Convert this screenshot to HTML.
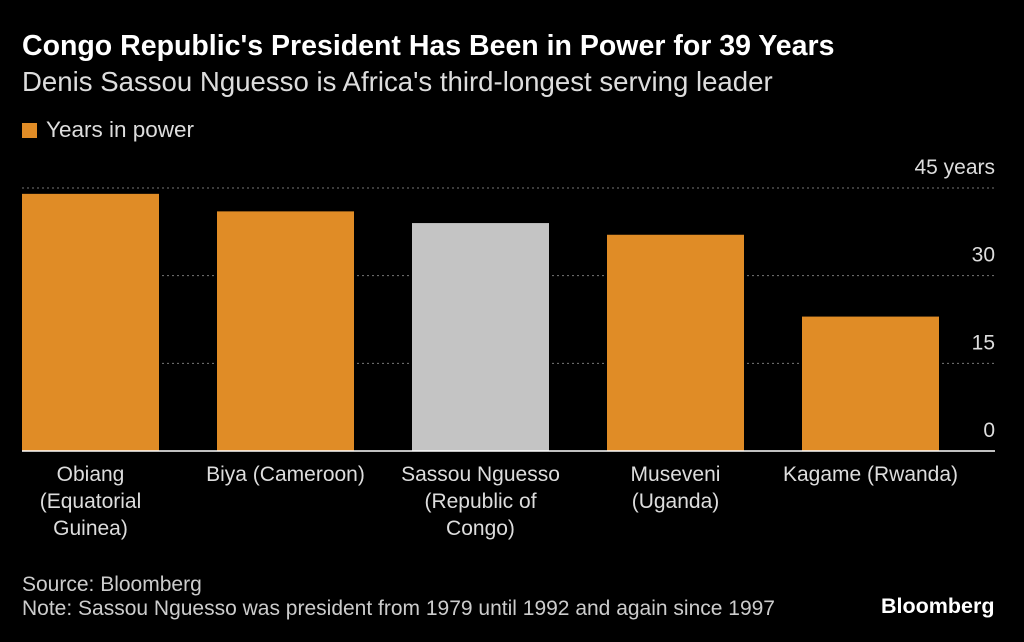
<!DOCTYPE html>
<html><head><meta charset="utf-8"><style>
body{margin:0;background:#000;width:1024px;height:642px;overflow:hidden;font-family:"Liberation Sans",sans-serif;color:#fff}
.t{position:absolute;white-space:nowrap}
</style></head><body>
<div class="t" style="left:22px;top:30px;font-size:28.5px;font-weight:bold">Congo Republic's President Has Been in Power for 39 Years</div>
<div class="t" style="left:22px;top:66px;font-size:27.6px;color:#ddd">Denis Sassou Nguesso is Africa's third-longest serving leader</div>
<div class="t" style="left:22px;top:117px;font-size:22.5px;color:#ddd"><span style="display:inline-block;width:15px;height:15px;background:#e08c26;margin-right:9px;vertical-align:-1px"></span>Years in power</div>
<svg id="c" width="1024" height="642" style="position:absolute;left:0;top:0"></svg>
<div class="t" style="left:22px;top:573px;font-size:21px;color:#ccc;line-height:24px">Source: Bloomberg<br>Note: Sassou Nguesso was president from 1979 until 1992 and again since 1997</div>
<div class="t" style="left:881px;top:594px;font-size:21.5px;font-weight:bold">Bloomberg</div>
<script>
const categories=["Obiang\n(Equatorial\nGuinea)","Biya (Cameroon)","Sassou Nguesso\n(Republic of\nCongo)","Museveni\n(Uganda)","Kagame (Rwanda)"];
const values=[44,41,39,37,23];
const highlight=[false,false,true,false,false];
const ticks=[0,15,30,45];
const tickLabels=["0","15","30","45 years"];
const svg=document.getElementById('c');const NS='http://www.w3.org/2000/svg';
const y0=451,pxPer=(451-188)/45;
const y=v=>y0-v*pxPer;
const x=i=>22+i*195;
function mk(t,a){const e=document.createElementNS(NS,t);for(const k in a)e.setAttribute(k,a[k]);svg.appendChild(e);return e;}
ticks.forEach((t,i)=>{
 if(t>0){const l=mk('line',{x1:22,x2:995,y1:y(t),y2:y(t),stroke:'#777','stroke-dasharray':'2,3'});
 
 }
 const tx=mk('text',{x:995,y:y(t)-14,'text-anchor':'end',fill:'#ddd','font-size':21});
 tx.textContent=tickLabels[i];
 
 
});
values.forEach((v,i)=>{
 const r=mk('rect',{x:x(i),y:y(v),width:137,height:y0-y(v),fill:highlight[i]?'#c4c4c4':'#e08c26'});
 
 
 const t=mk('text',{x:x(i)+68.5,y:481,fill:'#ddd','font-size':21,'text-anchor':'middle'});
 
 
 categories[i].split('\n').forEach((s,j)=>{const ts=document.createElementNS(NS,'tspan');ts.setAttribute('x',x(i)+68.5);ts.setAttribute('dy',j?27:0);ts.textContent=s;t.appendChild(ts);});
});
const b=mk('line',{x1:22,x2:995,y1:y0,y2:y0,stroke:'#fff','stroke-width':1.5});


</script>
</body></html>
